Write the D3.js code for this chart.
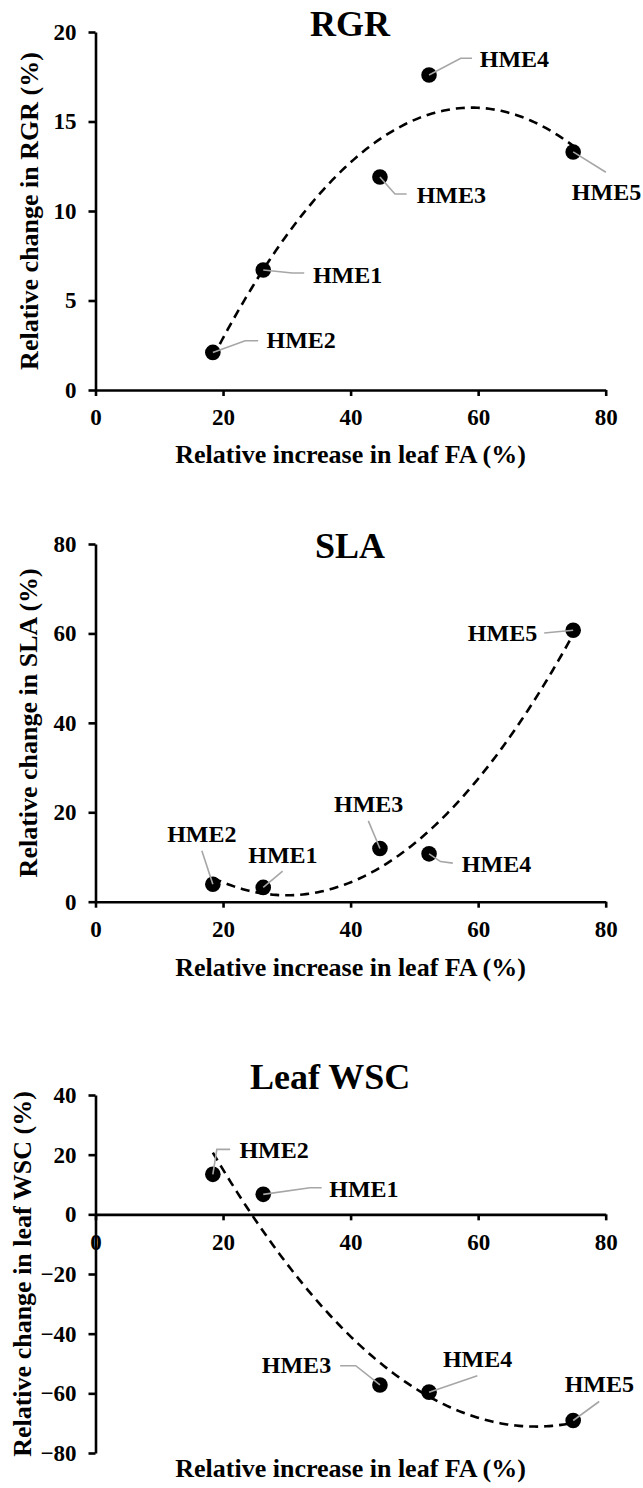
<!DOCTYPE html>
<html>
<head>
<meta charset="utf-8">
<script src="https://cdn.jsdelivr.net/npm/d3@7"></script>
<style>
  html, body { margin: 0; padding: 0; background: #fff; }
  svg { display: block; }
  text { font-family: "Liberation Serif", "Times New Roman", serif; font-weight: bold; fill: #000; }
</style>
</head>
<body>
<svg id="chart" width="643" height="1488"></svg>
<script>
// Strains and their relative increase in leaf FA (%)
const strains = ["HME1", "HME2", "HME3", "HME4", "HME5"];
const faIncrease = [26.3, 18.4, 44.6, 52.3, 74.9];

// Responses (%) per strain
const rgrChange = [6.7, 2.1, 11.9, 17.6, 13.3];
const slaChange = [3.2, 3.9, 11.9, 10.7, 60.7];
const wscChange = [6.7, 13.4, -57.2, -59.6, -69.1];

// Tick values
const xTicks = [0, 20, 40, 60, 80];
const rgrTicks = [0, 5, 10, 15, 20];
const slaTicks = [0, 20, 40, 60, 80];
const wscTicks = [-80, -60, -40, -20, 0, 20, 40];

// Data-label placement: leader bend points and text offsets (px, relative to the point)
const rgrLabelLayout = [
  { leader: [[29, 3], [41, 3]], tx: 49.7, ty: 12.7, anchor: "start" },
  { leader: [[32.3, -11.6], [45.3, -11.6]], tx: 53.7, ty: -4.3, anchor: "start" },
  { leader: [[15, 17], [26.7, 17]], tx: 36.7, ty: 26, anchor: "start" },
  { leader: [[31.7, -16.7], [43, -16.7]], tx: 50.7, ty: -8.3, anchor: "start" },
  { leader: [[32.7, 20.3]], tx: -1.3, ty: 48.3, anchor: "start" }
];
const slaLabelLayout = [
  { leader: [[19.4, -16.3]], tx: 19.7, ty: -24.6, anchor: "middle" },
  { leader: [[-11, -33.6]], tx: -11, ty: -42, anchor: "middle" },
  { leader: [[-11.6, -27.6]], tx: -11.3, ty: -36.6, anchor: "middle" },
  { leader: [[11.5, 7.7], [23.8, 9.3]], tx: 32.8, ty: 17.7, anchor: "start" },
  { leader: [[-29, 2.7]], tx: -36, ty: 11, anchor: "end" }
];
const wscLabelLayout = [
  { leader: [[46.7, -6.6], [58.4, -6.6]], tx: 66, ty: 2.7, anchor: "start" },
  { leader: [[4, -25], [17.3, -25]], tx: 26.6, ty: -16, anchor: "start" },
  { leader: [[-24.2, -19.3], [-39.8, -19.3]], tx: -48.8, ty: -11.6, anchor: "end" },
  { leader: [[48.3, -16.3]], tx: 48.5, ty: -25.6, anchor: "middle" },
  { leader: [[26, -19]], tx: 26.2, ty: -28, anchor: "middle" }
];

const panels = [
  { title: "RGR", yTitle: "Relative change in RGR (%)", values: rgrChange, ticks: rgrTicks,
    top: 32, bottom: 390, titleX: 350, titleY: 36, titleAnchor: "middle",
    xTitleY: 462.5, yTitleX: 38, labels: rgrLabelLayout },
  { title: "SLA", yTitle: "Relative change in SLA (%)", values: slaChange, ticks: slaTicks,
    top: 544, bottom: 901.7, titleX: 350, titleY: 558, titleAnchor: "middle",
    xTitleY: 976, yTitleX: 37, labels: slaLabelLayout },
  { title: "Leaf WSC", yTitle: "Relative change in leaf WSC (%)", values: wscChange, ticks: wscTicks,
    top: 1095, bottom: 1453, titleX: 250, titleY: 1089, titleAnchor: "start",
    xTitleY: 1477, yTitleX: 31, labels: wscLabelLayout }
];

const FONT = '"Liberation Serif", "Times New Roman", serif';
const svg = d3.select("#chart");
svg.append("rect").attr("width", 643).attr("height", 1488).attr("fill", "#fff");

const x = d3.scaleLinear().domain([0, 80]).range([95.5, 605.7]);

// Second-order least-squares polynomial trend
function quadFit(xs, ys) {
  const n = xs.length;
  let s = [0, 0, 0, 0, 0], t = [0, 0, 0];
  for (let i = 0; i < n; i++) {
    let p = 1;
    for (let k = 0; k <= 4; k++) { s[k] += p; if (k <= 2) t[k] += p * ys[i]; p *= xs[i]; }
  }
  const A = [[s[0], s[1], s[2], t[0]], [s[1], s[2], s[3], t[1]], [s[2], s[3], s[4], t[2]]];
  for (let c = 0; c < 3; c++) {
    let piv = c;
    for (let r = c + 1; r < 3; r++) if (Math.abs(A[r][c]) > Math.abs(A[piv][c])) piv = r;
    [A[c], A[piv]] = [A[piv], A[c]];
    for (let r = 0; r < 3; r++) {
      if (r === c) continue;
      const f = A[r][c] / A[c][c];
      for (let k = c; k < 4; k++) A[r][k] -= f * A[c][k];
    }
  }
  const coef = [A[0][3] / A[0][0], A[1][3] / A[1][1], A[2][3] / A[2][2]];
  return v => coef[0] + coef[1] * v + coef[2] * v * v;
}

panels.forEach(p => {
  const ext = d3.extent(p.ticks);
  const y = d3.scaleLinear().domain(ext).range([p.bottom, p.top]);
  const g = svg.append("g");
  const points = strains.map((s, i) => ({ name: s, fx: faIncrease[i], v: p.values[i], lay: p.labels[i] }));

  // x-axis at zero
  const xAxis = g.append("g")
    .attr("transform", `translate(0,${y(0)})`)
    .call(d3.axisBottom(x).tickValues(xTicks).tickSize(6).tickSizeOuter(0).tickPadding(13));
  // y-axis
  const yAxis = g.append("g")
    .attr("transform", `translate(${x(0)},0)`)
    .call(d3.axisLeft(y).tickValues(p.ticks).tickSize(7).tickSizeOuter(0).tickPadding(12)
      .tickFormat(d3.format("d")));

  [xAxis, yAxis].forEach(a => {
    a.attr("font-family", FONT).attr("font-size", 23).attr("font-weight", "bold");
    a.selectAll("text")
      .attr("fill", "#000")
      .style("font-family", FONT).style("font-weight", "bold").style("font-size", "23px");
    a.select(".domain").attr("stroke", "#000").attr("stroke-width", 2.6);
    a.selectAll(".tick line").attr("stroke", "#000").attr("stroke-width", 2.6);
  });
  // axis lines sit above the tick labels (the x "0" label meets the y-axis line)
  xAxis.selectAll(".tick").lower();
  yAxis.raise();

  // titles
  g.append("text").attr("x", p.titleX).attr("y", p.titleY).attr("text-anchor", p.titleAnchor)
    .style("font-size", "36px").text(p.title);
  g.append("text").attr("x", (x(0) + x(80)) / 2).attr("y", p.xTitleY).attr("text-anchor", "middle")
    .style("font-size", "26px").text("Relative increase in leaf FA (%)");
  g.append("text")
    .attr("transform", `translate(${p.yTitleX},${(p.top + p.bottom) / 2}) rotate(-90)`)
    .attr("text-anchor", "middle").style("font-size", "26px").text(p.yTitle);

  // polynomial trend line
  const f = quadFit(faIncrease, p.values);
  const [x0, x1] = d3.extent(faIncrease);
  const xs = d3.range(0, 121).map(i => x0 + (x1 - x0) * i / 120);
  g.append("path")
    .attr("d", d3.line().x(d => x(d)).y(d => y(f(d)))(xs))
    .attr("fill", "none").attr("stroke", "#000").attr("stroke-width", 2.6)
    .attr("stroke-dasharray", "9,6");

  // points
  g.selectAll("circle.pt").data(points).join("circle")
    .attr("class", "pt")
    .attr("cx", d => x(d.fx)).attr("cy", d => y(d.v)).attr("r", 7.8).attr("fill", "#000");

  // leader lines and labels
  g.selectAll("path.leader").data(points).join("path")
    .attr("class", "leader")
    .attr("d", d => {
      const cx = x(d.fx), cy = y(d.v);
      return d3.line()([[cx, cy]].concat(d.lay.leader.map(q => [cx + q[0], cy + q[1]])));
    })
    .attr("fill", "none").attr("stroke", "#a6a6a6").attr("stroke-width", 1.6);
  g.selectAll("text.lbl").data(points).join("text")
    .attr("class", "lbl")
    .attr("x", d => x(d.fx) + d.lay.tx).attr("y", d => y(d.v) + d.lay.ty)
    .attr("text-anchor", d => d.lay.anchor)
    .style("font-size", "24px").text(d => d.name);
});
</script>
</body>
</html>
